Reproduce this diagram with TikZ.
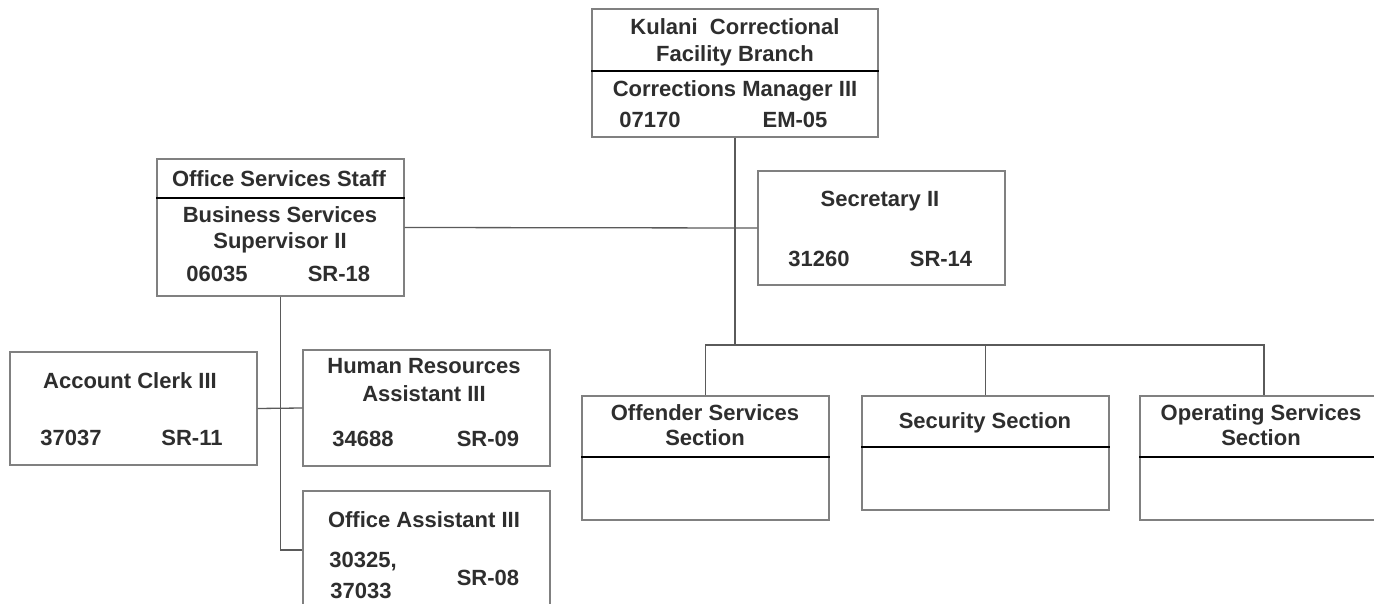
\documentclass[tikz,border=0pt]{standalone}
\usepackage{fontspec}
\setmainfont{Liberation Sans}
\definecolor{boxgray}{HTML}{808080}
\definecolor{linegray}{HTML}{5A5A5A}
\definecolor{txtgray}{HTML}{2E2E2E}
\begin{document}
\begin{tikzpicture}[x=1pt,y=-1pt,
  box/.style={draw=boxgray, line width=1.3pt, inner sep=0pt, fill=white, minimum width=247pt},
  txt/.style={anchor=base, inner sep=0pt, font=\bfseries\fontsize{22}{26}\selectfont, text=txtgray},
  conn/.style={draw=linegray, line width=1.3pt},
  divl/.style={draw=black, line width=1.4pt}]
\useasboundingbox (0,0) rectangle (1374,604);
\clip (0,0) rectangle (1374,604);
% boxes
\node[box, minimum width=286pt, minimum height=128pt] (top) at (735,73) {};
\node[box, minimum height=137pt] (oss) at (280.5,227.5) {};
\node[box, minimum height=114pt] (sec) at (881.5,228) {};
\node[box, minimum height=113pt] (ac) at (133.5,408.5) {};
\node[box, minimum height=116pt] (hr) at (426.5,408) {};
\node[box, minimum height=118pt] (oa) at (426.5,550) {};
\node[box, minimum height=124pt] (off) at (705.5,458) {};
\node[box, minimum height=114pt] (secu) at (985.5,453) {};
\node[box, minimum width=248pt, minimum height=124pt] (opr) at (1264,458) {};
% dividers
\draw[divl] (top.west |- 0,71) -- (top.east |- 0,71);
\draw[divl] (oss.west |- 0,198) -- (oss.east |- 0,198);
\draw[divl] (off.west |- 0,457) -- (off.east |- 0,457);
\draw[divl] (secu.west |- 0,447) -- (secu.east |- 0,447);
\draw[divl] (opr.west |- 0,457) -- (opr.east |- 0,457);
% connectors
\coordinate (bar) at (735,345);
\draw[conn] (top.south) -- (bar);
\draw[conn] (off.north) -- (off.north |- bar) -- (opr.north |- bar) -- (opr.north);
\draw[conn] (secu.north) -- (secu.north |- bar);
\draw[conn] (oss.east) -- (sec.west);
\draw[conn] (oss.south) |- (oa.west);
\draw[conn] (ac.east) -- (hr.west);
% texts
\node[txt] (t1) at (735,35) {Kulani\ \ Correctional};
\node[txt] (t2) at (735,62) {Facility Branch};
\node[txt] (t3) at (735,97) {Corrections Manager III};
\node[txt] (t4) at (650,128) {07170};
\node[txt] (t5) at (795,128) {EM-05};
\node[txt] (o1) at (279,187) {Office Services Staff};
\node[txt] (o2) at (280,223) {Business Services};
\node[txt] (o3) at (280,249) {Supervisor II};
\node[txt] (o4) at (217,281) {06035};
\node[txt] (o5) at (339,281) {SR-18};
\node[txt] (s1) at (880,207) {Secretary II};
\node[txt] (s2) at (819,266) {31260};
\node[txt] (s3) at (941,266) {SR-14};
\node[txt] (a1) at (130,388) {Account Clerk III};
\node[txt] (a2) at (71,445) {37037};
\node[txt] (a3) at (192,445) {SR-11};
\node[txt] (h1) at (424,373) {Human Resources};
\node[txt] (h2) at (424,401) {Assistant III};
\node[txt] (h3) at (363,446) {34688};
\node[txt] (h4) at (488,446) {SR-09};
\node[txt] (p1) at (424,527) {Office Assistant III};
\node[txt] (p2) at (363,567) {30325,};
\node[txt] (p3) at (361,598) {37033};
\node[txt] (p4) at (488,585) {SR-08};
\node[txt] (f1) at (705,420) {Offender Services};
\node[txt] (f2) at (705,445) {Section};
\node[txt] (g1) at (985,428) {Security Section};
\node[txt] (r1) at (1261,420) {Operating Services};
\node[txt] (r2) at (1261,445) {Section};
\end{tikzpicture}
\end{document}
